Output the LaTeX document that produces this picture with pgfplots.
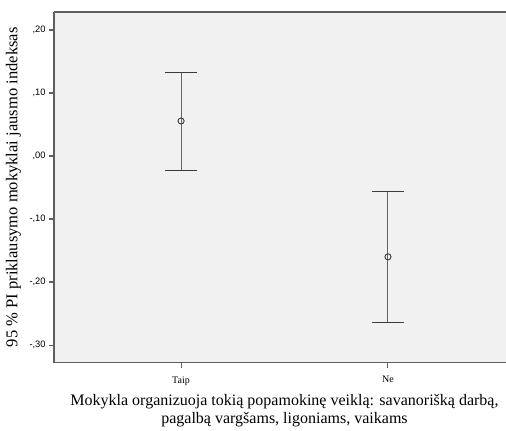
\documentclass[border=0pt]{standalone}
\usepackage{fontspec}
\setmainfont{Liberation Serif}
\newfontfamily\ticksans{Liberation Sans}
\usepackage{pgfplots}
\pgfplotsset{compat=1.18}
\definecolor{bgpanel}{RGB}{240,241,240}
\definecolor{axline}{RGB}{95,95,95}
\definecolor{barline}{RGB}{100,100,100}
\definecolor{capline}{RGB}{60,60,60}

\pgfplotstableread{
x y ep em
1 0.0556 0.0777 0.0778
2 -0.1600 0.1029 0.1035
}\ciTable

\begin{document}
\begin{tikzpicture}
\begin{axis}[
    scale only axis,
    width=345.75pt, height=263pt,
    xmin=0.386, xmax=2.614,
    ymin=-0.328, ymax=0.2286,
    axis background/.style={fill=bgpanel},
    axis line style={axline, line width=0.9pt},
    separate axis lines,
    axis x line*=box,
    xtick={1,2}, xticklabels={Taip,Ne},
    ytick={-0.3,-0.2,-0.1,0,0.1,0.2},
    yticklabels={{-,30},{-,20},{-,10},{,00},{,10},{,20}},
    tick align=outside, tick pos=left,
    major tick length=3.75pt,
    tick style={axline, line width=0.8pt},
    yticklabel style={font=\ticksans\fontsize{7}{8}\selectfont, xshift=1pt},
    xticklabel style={font=\fontsize{7.5}{9}\selectfont, yshift=-3pt},
    xlabel={Mokykla organizuoja tokią popamokinę veiklą: savanorišką darbą,\\pagalbą vargšams, ligoniams, vaikams},
    xlabel style={font=\fontsize{12}{13.5}\selectfont, align=center, yshift=0pt},
    ylabel={95 \% PI priklausymo mokyklai jausmo indeksas},
    ylabel style={font=\fontsize{12.4}{14}\selectfont, yshift=-0.5pt},
    clip=false,
]
\addplot[only marks, mark=o, mark size=2.3pt,
    mark options={capline, line width=0.7pt},
    error bars/.cd, y dir=both, y explicit,
    error mark=-,
    error bar style={barline, line width=0.75pt},
    error mark options={capline, line width=0.75pt, mark size=12pt, rotate=90}]
    table[x=x, y=y, y error plus=ep, y error minus=em] {\ciTable};
\end{axis}
\pgfresetboundingbox
\path (-40.5pt,-50.5pt) rectangle (339pt,272pt);
\end{tikzpicture}
\end{document}
